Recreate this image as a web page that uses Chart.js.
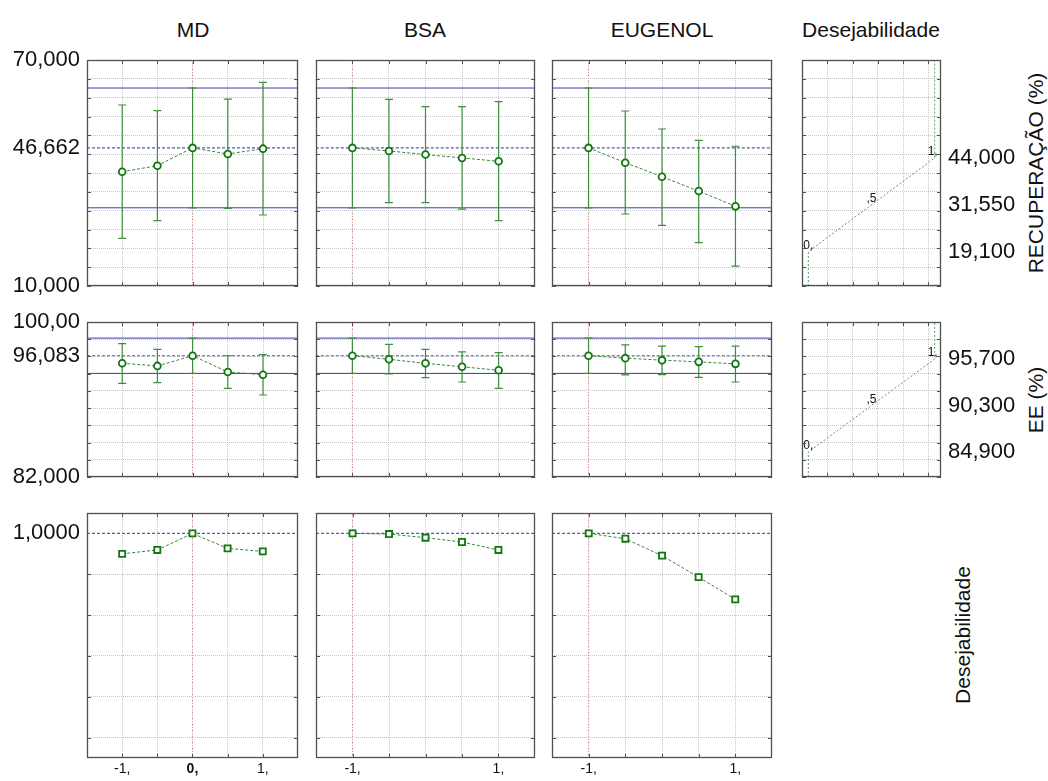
<!DOCTYPE html>
<html>
<head>
<meta charset="utf-8">
<script src="https://cdn.jsdelivr.net/npm/chart.js@4.4.0/dist/chart.umd.min.js"></script>
<style>
  body { margin: 0; background: #fff; }
  #wrap { position: relative; width: 1048px; height: 781px; overflow: hidden;
          font-family: "Liberation Sans", Arial, sans-serif; color: #111; }
  #wrap canvas { position: absolute; }
  .title { position: absolute; top: 19px; font-size: 21px; line-height: 22px;
           transform: translateX(-50%); white-space: nowrap; }
  .side { position: absolute; font-size: 21px; line-height: 22px; white-space: nowrap;
          transform: translate(-50%, -50%) rotate(-90deg); }
</style>
</head>
<body>
<div id="wrap">
  <div class="title" style="left:193px">MD</div>
  <div class="title" style="left:425px">BSA</div>
  <div class="title" style="left:662px">EUGENOL</div>
  <div class="title" style="left:871px">Desejabilidade</div>
  <div class="side" style="left:1036px;top:173px">RECUPERAÇÃO (%)</div>
  <div class="side" style="left:1036px;top:400px">EE (%)</div>
  <div class="side" style="left:963px;top:635px">Desejabilidade</div>
</div>
<script>
// factor levels (coded)
const levels = [-1, -0.5, 0, 0.5, 1];
const currentLevel = [0, -1, -1]; // MD, BSA, EUGENOL

// RECUPERAÇÃO (%)
const recMD = [40.35, 41.94, 46.662, 45.05, 46.46];
const recMDLo = [22.65, 27.34, 30.76, 30.6, 28.85];
const recMDHi = [58.05, 56.54, 62.56, 59.6, 64.07];
const recBSA = [46.662, 45.85, 44.9, 44.0, 43.1];
const recBSALo = [30.76, 32.12, 32.12, 30.43, 27.34];
const recBSAHi = [62.56, 59.57, 57.6, 57.6, 58.94];
const recEUG = [46.662, 42.74, 39.0, 35.2, 31.15];
const recEUGLo = [30.76, 29.12, 26.12, 21.5, 15.3];
const recEUGHi = [62.56, 56.46, 51.68, 48.68, 47.1];
const recPred = 46.662;
const recCI = [30.76, 62.56];

// EE (%)
const eeMD = [95.2, 94.9, 96.083, 94.19, 93.88];
const eeMDLo = [92.88, 92.96, 94.03, 92.3, 91.52];
const eeMDHi = [97.48, 96.83, 98.13, 96.08, 96.2];
const eeBSA = [96.083, 95.67, 95.2, 94.8, 94.39];
const eeBSALo = [94.03, 93.96, 93.53, 93.03, 92.3];
const eeBSAHi = [98.13, 97.4, 96.83, 96.52, 96.44];
const eeEUG = [96.083, 95.8, 95.57, 95.37, 95.14];
const eeEUGLo = [94.03, 93.85, 93.9, 93.57, 93.03];
const eeEUGHi = [98.13, 97.35, 97.21, 97.13, 97.21];
const eePred = 96.083;
const eeCI = [94.03, 98.13];

// Desejabilidade
const desMD = [0.90, 0.919, 1.0, 0.927, 0.912];
const desBSA = [1.0, 0.997, 0.979, 0.958, 0.919];
const desEUG = [1.0, 0.974, 0.891, 0.786, 0.677];
const desPred = 1.0;

// desirability functions (desirability 0 / ,5 / 1 -> response)
const desLevels = [0, 0.5, 1];
const desLevelText = ['0,', ',5', '1,'];
const recDesVals = [19.1, 31.55, 44];
const recDesText = ['19,100', '31,550', '44,000'];
const eeDesVals = [84.9, 90.3, 95.7];
const eeDesText = ['84,900', '90,300', '95,700'];

// axis ticks
const xGrid = [-1, -0.5, 0, 0.5, 1];
const desXGrid = [0.15, 0.35, 0.55, 0.75, 0.95];
const recGrid = [10, 15, 20, 25, 30, 35, 40, 45, 50, 55, 60, 65, 70];
const recTickVals = [10, 46.662, 70];
const recTickText = ['10,000', '46,662', '70,000'];
const eeGrid = [82, 84, 86, 88, 90, 92, 94, 96, 98, 100];
const eeTickVals = [82, 96.083, 100];
const eeTickText = ['82,000', '96,083', '100,00'];
const desGrid = [0, 0.2, 0.4, 0.6, 0.8];
const desTickVals = [1];
const desTickText = ['1,0000'];
const mdXLabelVals = [-1, 0, 1];
const mdXLabelText = ['-1,', '0,', '1,'];
const xLabelVals = [-1, 1];
const xLabelText = ['-1,', '1,'];

// layout (plot frames in page pixels)
const colL = [87, 316, 552, 802];
const colR = [298, 535, 772, 941];
const rowT = [60, 322, 513];
const rowB = [286, 477, 758];

const GRID = '#c6c6c6';
const FRAME = '#505050';
Chart.defaults.font.family = '"Liberation Sans", Arial, sans-serif';
Chart.defaults.color = '#111';

const wrap = document.getElementById('wrap');

const framePlugin = {
  id: 'frame',
  afterDraw(chart, args, opts) {
    const { ctx, chartArea: a, scales } = chart;
    ctx.save();
    ctx.strokeStyle = FRAME;
    ctx.lineWidth = 1.3;
    ctx.strokeRect(Math.round(a.left) + 0.5, Math.round(a.top) + 0.5,
      Math.round(a.right - a.left) - 1, Math.round(a.bottom - a.top) - 1);
    ctx.lineWidth = 1;
    ctx.beginPath();
    opts.xs.forEach(v => {
      const px = Math.round(scales.x.getPixelForValue(v)) + 0.5;
      ctx.moveTo(px, a.top); ctx.lineTo(px, a.top + 4);
      ctx.moveTo(px, a.bottom); ctx.lineTo(px, a.bottom - 4);
    });
    opts.ys.forEach(v => {
      const py = Math.round(scales.y.getPixelForValue(v)) + 0.5;
      ctx.moveTo(a.left, py); ctx.lineTo(a.left + 4, py);
      ctx.moveTo(a.right, py); ctx.lineTo(a.right - 4, py);
    });
    ctx.stroke();
    ctx.restore();
  }
};

const desTextPlugin = {
  id: 'desText',
  afterDatasetsDraw(chart, args, opts) {
    if (!opts.vals) return;
    const { ctx, scales: { x, y } } = chart;
    ctx.save();
    ctx.font = '12px "Liberation Sans", Arial, sans-serif';
    ctx.fillStyle = '#111';
    ctx.textBaseline = 'alphabetic';
    opts.vals.forEach((v, i) => {
      const px = x.getPixelForValue(desLevels[i]);
      const py = y.getPixelForValue(v);
      ctx.textAlign = i === 1 ? 'center' : 'right';
      ctx.fillText(desLevelText[i], px + (i === 1 ? 0 : (i === 0 ? 5 : 3)), py - 3);
    });
    ctx.restore();
  }
};

function tickAxis(grid, labelVals, labelText, size, extra) {
  return Object.assign({
    type: 'linear',
    afterBuildTicks: s => {
      s.ticks = [...new Set(grid.concat(labelVals || []))].sort((a, b) => a - b).map(v => ({ value: v }));
    },
    grid: {
      drawTicks: false,
      color: c => (c.tick && grid.includes(c.tick.value)) ? GRID : 'rgba(0,0,0,0)'
    },
    border: { display: false, dash: [1, 1] },
    ticks: {
      display: !!labelVals,
      autoSkip: false,
      maxRotation: 0,
      color: '#111',
      font: { size: size },
      callback: v => {
        const i = (labelVals || []).indexOf(v);
        return i < 0 ? '' : labelText[i];
      }
    }
  }, extra);
}

function buildConfig(o, padT, padR) {
  const scales = {
    x: tickAxis(o.xGrid, o.xLabelVals, o.xLabelText, 14, {
      min: o.xmin, max: o.xmax, position: 'bottom',
      afterFit: s => { s.height = o.padB; }
    }),
    y: tickAxis(o.yGrid, o.yLabelVals, o.yLabelText, 22, {
      min: o.ymin, max: o.ymax, position: 'left',
      afterFit: s => { s.width = o.padL; }
    })
  };
  scales.x.ticks.padding = 3;
  scales.y.ticks.padding = 7;
  if (o.boldZero) {
    scales.x.ticks.font = c => ({ size: 14, weight: (c.tick && c.tick.value === 0) ? 'bold' : 'normal' });
  }
  if (o.rightVals) {
    scales.y2 = {
      type: 'linear', position: 'right', min: o.ymin, max: o.ymax,
      afterBuildTicks: s => { s.ticks = o.rightVals.map(v => ({ value: v })); },
      afterFit: s => { s.width = o.padR; },
      grid: { display: false, drawTicks: false },
      border: { display: false },
      ticks: {
        autoSkip: false, padding: 7, color: '#111', font: { size: 22 },
        callback: v => o.rightText[o.rightVals.indexOf(v)]
      }
    };
  }
  return {
    type: 'line',
    data: { datasets: o.makeSets() },
    options: {
      responsive: false,
      animation: false,
      devicePixelRatio: 1,
      layout: { padding: { top: padT, right: o.rightVals ? 0 : padR, left: 0, bottom: 0 } },
      scales: scales,
      plugins: {
        legend: { display: false },
        tooltip: { enabled: false },
        frame: { xs: o.xGrid, ys: o.yGrid },
        desText: { vals: o.desVals }
      }
    },
    plugins: [framePlugin, desTextPlugin]
  };
}

// builds the chart, then re-fits the canvas so the plot frame lands on L/R/T/B
function makeChart(o) {
  const c = document.createElement('canvas');
  wrap.appendChild(c);
  let w = o.R - o.L + o.padL + o.padR;
  let h = o.B - o.T + o.padT + o.padB;
  let offL = o.padL, offT = o.padT;
  let chart;
  for (let k = 0; k < 4; k++) {
    c.width = w; c.height = h;
    c.style.width = w + 'px'; c.style.height = h + 'px';
    c.style.left = (o.L - offL) + 'px';
    c.style.top = (o.T - offT) + 'px';
    chart = new Chart(c, buildConfig(o, o.padT, o.padR));
    const a = chart.chartArea;
    const dw = Math.round((o.R - o.L) - (a.right - a.left));
    const dh = Math.round((o.B - o.T) - (a.bottom - a.top));
    const ok = dw === 0 && dh === 0 && Math.round(a.left) === offL && Math.round(a.top) === offT;
    if (ok) break;
    chart.destroy();
    offL = Math.round(a.left); offT = Math.round(a.top);
    w += dw; h += dh;
  }
  return chart;
}

function profileSets(mean, lo, hi, pred, ci, cur, ymin, ymax, squares) {
  const sets = [];
  sets.push({
    data: levels.map((x, i) => ({ x: x, y: mean[i] })),
    borderColor: '#3a863a', borderWidth: 1, borderDash: [3, 2],
    pointStyle: squares ? 'rect' : 'circle',
    pointRadius: squares ? 4.3 : 3.4,
    pointBorderWidth: 1.8,
    pointBorderColor: '#137513', pointBackgroundColor: '#fff'
  });
  if (lo) {
    levels.forEach((x, i) => sets.push({
      data: [{ x: x, y: lo[i] }, { x: x, y: hi[i] }],
      borderColor: '#3d8f3d', borderWidth: 1.2,
      pointStyle: 'line', pointRadius: 4, pointBorderWidth: 1.2, pointBorderColor: '#3d8f3d'
    }));
  }
  (ci || []).forEach(v => sets.push({
    data: [{ x: -1.5, y: v }, { x: 1.5, y: v }],
    borderColor: '#3c3ca8', borderWidth: 1, pointRadius: 0
  }));
  sets.push({
    data: [{ x: -1.5, y: pred }, { x: 1.5, y: pred }],
    borderColor: '#5656bb', borderWidth: 1.2, borderDash: [3, 2], pointRadius: 0
  });
  sets.push({
    data: [{ x: cur, y: ymin }, { x: cur, y: ymax }],
    borderColor: '#e48585', borderWidth: 1, borderDash: [1, 2], pointRadius: 0
  });
  return sets;
}

function desCurve(vals, ymin, ymax) {
  const pts = [{ x: 0, y: ymin }].concat(desLevels.map((d, i) => ({ x: d, y: vals[i] })), [{ x: 1, y: ymax }]);
  return [{
    data: pts, borderColor: '#5a9e5a', borderWidth: 1, borderDash: [2, 2], pointRadius: 0
  }];
}

const rowDefs = [
  { ymin: 10, ymax: 70, grid: recGrid, lv: recTickVals, lt: recTickText, pred: recPred, ci: recCI,
    series: [[recMD, recMDLo, recMDHi], [recBSA, recBSALo, recBSAHi], [recEUG, recEUGLo, recEUGHi]],
    desVals: recDesVals, desText: recDesText },
  { ymin: 82, ymax: 100, grid: eeGrid, lv: eeTickVals, lt: eeTickText, pred: eePred, ci: eeCI,
    series: [[eeMD, eeMDLo, eeMDHi], [eeBSA, eeBSALo, eeBSAHi], [eeEUG, eeEUGLo, eeEUGHi]],
    desVals: eeDesVals, desText: eeDesText },
  { ymin: -0.1, ymax: 1.1, grid: desGrid, lv: desTickVals, lt: desTickText, pred: desPred, ci: null,
    series: [[desMD], [desBSA], [desEUG]] }
];

rowDefs.forEach((r, ri) => {
  for (let ci = 0; ci < 3; ci++) {
    const s = r.series[ci];
    const last = ri === 2;
    makeChart({
      L: colL[ci], R: colR[ci], T: rowT[ri], B: rowB[ri],
      padL: ci === 0 ? 80 : 2, padR: 2, padT: 22, padB: last ? 24 : 22,
      xmin: -1.5, xmax: 1.5, ymin: r.ymin, ymax: r.ymax,
      xGrid: xGrid, yGrid: r.grid,
      xLabelVals: last ? (ci === 0 ? mdXLabelVals : xLabelVals) : null,
      xLabelText: last ? (ci === 0 ? mdXLabelText : xLabelText) : null,
      boldZero: last && ci === 0,
      yLabelVals: ci === 0 ? r.lv : null,
      yLabelText: ci === 0 ? r.lt : null,
      makeSets: () => profileSets(s[0], s[1], s[2], r.pred, r.ci, currentLevel[ci], r.ymin, r.ymax, last)
    });
  }
  if (r.desVals) {
    makeChart({
      L: colL[3], R: colR[3], T: rowT[ri], B: rowB[ri],
      padL: 2, padR: 90, padT: 22, padB: 22,
      xmin: -0.05, xmax: 1.05, ymin: r.ymin, ymax: r.ymax,
      xGrid: desXGrid, yGrid: r.grid,
      rightVals: r.desVals, rightText: r.desText,
      desVals: r.desVals,
      makeSets: () => desCurve(r.desVals, r.ymin, r.ymax)
    });
  }
});
</script>
</body>
</html>
